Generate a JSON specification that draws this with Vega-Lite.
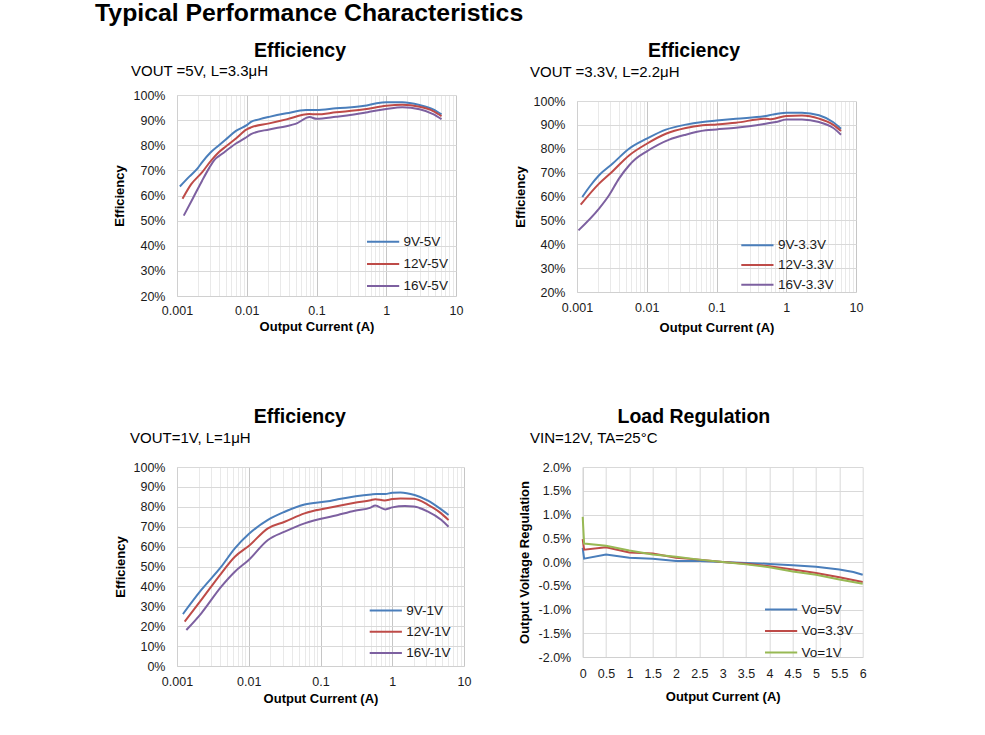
{
  "$schema": "https://vega.github.io/schema/vega-lite/v6.json",
  "padding": {"left": 95, "top": 0, "right": 5, "bottom": 5},
  "background": "white",
  "title": {"text": "Typical Performance Characteristics", "anchor": "start", "frame": "bounds", "fontSize": 24.8, "fontWeight": "bold", "color": "#000", "dx": -18, "offset": 16},
  "spacing": 72,
  "resolve": {"scale": {"x": "independent", "y": "independent", "color": "independent"}, "axis": {"x": "independent", "y": "independent"}, "legend": {"color": "independent"}},
  "datasets": {
    "eff5": [
      {"s": "9V-5V", "I": 0.0011, "eff": 63.6}, {"s": "9V-5V", "I": 0.0015, "eff": 67.5}, {"s": "9V-5V", "I": 0.002, "eff": 71}, {"s": "9V-5V", "I": 0.0023, "eff": 73.3}, {"s": "9V-5V", "I": 0.003, "eff": 77}, {"s": "9V-5V", "I": 0.004, "eff": 80}, {"s": "9V-5V", "I": 0.005, "eff": 82.3}, {"s": "9V-5V", "I": 0.007, "eff": 85.7}, {"s": "9V-5V", "I": 0.01, "eff": 88}, {"s": "9V-5V", "I": 0.0115, "eff": 89.3}, {"s": "9V-5V", "I": 0.015, "eff": 90.3}, {"s": "9V-5V", "I": 0.021, "eff": 91.3}, {"s": "9V-5V", "I": 0.037, "eff": 92.7}, {"s": "9V-5V", "I": 0.071, "eff": 94}, {"s": "9V-5V", "I": 0.1, "eff": 94}, {"s": "9V-5V", "I": 0.19, "eff": 94.7}, {"s": "9V-5V", "I": 0.49, "eff": 95.7}, {"s": "9V-5V", "I": 0.7, "eff": 96.6}, {"s": "9V-5V", "I": 1, "eff": 97.1}, {"s": "9V-5V", "I": 1.7, "eff": 97.1}, {"s": "9V-5V", "I": 3, "eff": 96}, {"s": "9V-5V", "I": 4.7, "eff": 94.3}, {"s": "9V-5V", "I": 6.2, "eff": 92.3},
      {"s": "12V-5V", "I": 0.0012, "eff": 58.7}, {"s": "12V-5V", "I": 0.0016, "eff": 64.5}, {"s": "12V-5V", "I": 0.0023, "eff": 69.3}, {"s": "12V-5V", "I": 0.003, "eff": 73.5}, {"s": "12V-5V", "I": 0.004, "eff": 77.3}, {"s": "12V-5V", "I": 0.005, "eff": 79.5}, {"s": "12V-5V", "I": 0.007, "eff": 82.7}, {"s": "12V-5V", "I": 0.01, "eff": 86.3}, {"s": "12V-5V", "I": 0.0115, "eff": 87.1}, {"s": "12V-5V", "I": 0.021, "eff": 88.7}, {"s": "12V-5V", "I": 0.037, "eff": 90.3}, {"s": "12V-5V", "I": 0.079, "eff": 92.4}, {"s": "12V-5V", "I": 0.1, "eff": 92.3}, {"s": "12V-5V", "I": 0.19, "eff": 93.1}, {"s": "12V-5V", "I": 0.49, "eff": 94.3}, {"s": "12V-5V", "I": 1, "eff": 95.7}, {"s": "12V-5V", "I": 1.7, "eff": 96.1}, {"s": "12V-5V", "I": 3, "eff": 95.3}, {"s": "12V-5V", "I": 4.7, "eff": 93.6}, {"s": "12V-5V", "I": 6.2, "eff": 91.6},
      {"s": "16V-5V", "I": 0.00125, "eff": 52}, {"s": "16V-5V", "I": 0.0017, "eff": 59}, {"s": "16V-5V", "I": 0.0023, "eff": 66}, {"s": "16V-5V", "I": 0.0029, "eff": 71}, {"s": "16V-5V", "I": 0.0034, "eff": 74}, {"s": "16V-5V", "I": 0.0045, "eff": 76.7}, {"s": "16V-5V", "I": 0.007, "eff": 80.7}, {"s": "16V-5V", "I": 0.0093, "eff": 82.7}, {"s": "16V-5V", "I": 0.0115, "eff": 84.4}, {"s": "16V-5V", "I": 0.021, "eff": 86.3}, {"s": "16V-5V", "I": 0.037, "eff": 87.6}, {"s": "16V-5V", "I": 0.05, "eff": 88.5}, {"s": "16V-5V", "I": 0.08, "eff": 91.2}, {"s": "16V-5V", "I": 0.1, "eff": 90.5}, {"s": "16V-5V", "I": 0.19, "eff": 91.3}, {"s": "16V-5V", "I": 0.49, "eff": 92.9}, {"s": "16V-5V", "I": 0.6, "eff": 93.4}, {"s": "16V-5V", "I": 1, "eff": 94.4}, {"s": "16V-5V", "I": 1.7, "eff": 95.1}, {"s": "16V-5V", "I": 3, "eff": 94.3}, {"s": "16V-5V", "I": 4.7, "eff": 92.4}, {"s": "16V-5V", "I": 6.2, "eff": 90.4}
    ],
    "eff33": [
      {"s": "9V-3.3V", "I": 0.00119, "eff": 59.8}, {"s": "9V-3.3V", "I": 0.00155, "eff": 64.5}, {"s": "9V-3.3V", "I": 0.00207, "eff": 68.9}, {"s": "9V-3.3V", "I": 0.00322, "eff": 73.7}, {"s": "9V-3.3V", "I": 0.00557, "eff": 80}, {"s": "9V-3.3V", "I": 0.01, "eff": 84.2}, {"s": "9V-3.3V", "I": 0.0188, "eff": 88}, {"s": "9V-3.3V", "I": 0.0363, "eff": 90.1}, {"s": "9V-3.3V", "I": 0.063, "eff": 91.2}, {"s": "9V-3.3V", "I": 0.1, "eff": 91.8}, {"s": "9V-3.3V", "I": 0.19, "eff": 92.6}, {"s": "9V-3.3V", "I": 0.51, "eff": 93.7}, {"s": "9V-3.3V", "I": 0.63, "eff": 94.3}, {"s": "9V-3.3V", "I": 1, "eff": 95.1}, {"s": "9V-3.3V", "I": 1.68, "eff": 95.1}, {"s": "9V-3.3V", "I": 2.95, "eff": 94}, {"s": "9V-3.3V", "I": 4.67, "eff": 91.2}, {"s": "9V-3.3V", "I": 6.1, "eff": 88.4},
      {"s": "12V-3.3V", "I": 0.00113, "eff": 56.6}, {"s": "12V-3.3V", "I": 0.00207, "eff": 65.4}, {"s": "12V-3.3V", "I": 0.00322, "eff": 70.5}, {"s": "12V-3.3V", "I": 0.00557, "eff": 77.2}, {"s": "12V-3.3V", "I": 0.01, "eff": 82.1}, {"s": "12V-3.3V", "I": 0.0188, "eff": 86.3}, {"s": "12V-3.3V", "I": 0.0363, "eff": 88.7}, {"s": "12V-3.3V", "I": 0.063, "eff": 89.8}, {"s": "12V-3.3V", "I": 0.1, "eff": 90.2}, {"s": "12V-3.3V", "I": 0.19, "eff": 90.9}, {"s": "12V-3.3V", "I": 0.51, "eff": 92.6}, {"s": "12V-3.3V", "I": 0.6, "eff": 92.4}, {"s": "12V-3.3V", "I": 1, "eff": 93.7}, {"s": "12V-3.3V", "I": 1.68, "eff": 93.9}, {"s": "12V-3.3V", "I": 2.95, "eff": 92.6}, {"s": "12V-3.3V", "I": 4.67, "eff": 90.1}, {"s": "12V-3.3V", "I": 6.1, "eff": 87.4},
      {"s": "16V-3.3V", "I": 0.00105, "eff": 45.8}, {"s": "16V-3.3V", "I": 0.00207, "eff": 54.9}, {"s": "16V-3.3V", "I": 0.00288, "eff": 60.5}, {"s": "16V-3.3V", "I": 0.004, "eff": 67.5}, {"s": "16V-3.3V", "I": 0.00557, "eff": 73}, {"s": "16V-3.3V", "I": 0.00695, "eff": 75.8}, {"s": "16V-3.3V", "I": 0.01, "eff": 78.9}, {"s": "16V-3.3V", "I": 0.021, "eff": 83.8}, {"s": "16V-3.3V", "I": 0.0363, "eff": 85.9}, {"s": "16V-3.3V", "I": 0.07, "eff": 87.7}, {"s": "16V-3.3V", "I": 0.1, "eff": 88.1}, {"s": "16V-3.3V", "I": 0.19, "eff": 88.8}, {"s": "16V-3.3V", "I": 0.51, "eff": 90.5}, {"s": "16V-3.3V", "I": 0.71, "eff": 91.2}, {"s": "16V-3.3V", "I": 1, "eff": 92.2}, {"s": "16V-3.3V", "I": 1.68, "eff": 92.3}, {"s": "16V-3.3V", "I": 2.95, "eff": 91.2}, {"s": "16V-3.3V", "I": 4.67, "eff": 88.8}, {"s": "16V-3.3V", "I": 6.1, "eff": 85.9}
    ],
    "eff1": [
      {"s": "9V-1V", "I": 0.00121, "eff": 26.1}, {"s": "9V-1V", "I": 0.00218, "eff": 38.2}, {"s": "9V-1V", "I": 0.00414, "eff": 49.9}, {"s": "9V-1V", "I": 0.0064, "eff": 59.1}, {"s": "9V-1V", "I": 0.01, "eff": 66.3}, {"s": "9V-1V", "I": 0.0185, "eff": 73.4}, {"s": "9V-1V", "I": 0.0317, "eff": 77.5}, {"s": "9V-1V", "I": 0.06, "eff": 81.2}, {"s": "9V-1V", "I": 0.127, "eff": 82.8}, {"s": "9V-1V", "I": 0.175, "eff": 83.8}, {"s": "9V-1V", "I": 0.51, "eff": 86.2}, {"s": "9V-1V", "I": 0.6, "eff": 86.4}, {"s": "9V-1V", "I": 0.8, "eff": 86.4}, {"s": "9V-1V", "I": 1, "eff": 87.1}, {"s": "9V-1V", "I": 1.3, "eff": 87.2}, {"s": "9V-1V", "I": 2.05, "eff": 85.9}, {"s": "9V-1V", "I": 3.15, "eff": 83.1}, {"s": "9V-1V", "I": 4.8, "eff": 78.7}, {"s": "9V-1V", "I": 6.1, "eff": 75.9},
      {"s": "12V-1V", "I": 0.00128, "eff": 22.3}, {"s": "12V-1V", "I": 0.00218, "eff": 33.2}, {"s": "12V-1V", "I": 0.00414, "eff": 46.6}, {"s": "12V-1V", "I": 0.0064, "eff": 54.9}, {"s": "12V-1V", "I": 0.01, "eff": 60.3}, {"s": "12V-1V", "I": 0.0185, "eff": 69.2}, {"s": "12V-1V", "I": 0.0317, "eff": 72.5}, {"s": "12V-1V", "I": 0.06, "eff": 76.7}, {"s": "12V-1V", "I": 0.175, "eff": 80.4}, {"s": "12V-1V", "I": 0.3, "eff": 82}, {"s": "12V-1V", "I": 0.5, "eff": 83.3}, {"s": "12V-1V", "I": 0.58, "eff": 83.8}, {"s": "12V-1V", "I": 0.78, "eff": 83.2}, {"s": "12V-1V", "I": 1, "eff": 83.9}, {"s": "12V-1V", "I": 1.3, "eff": 84.2}, {"s": "12V-1V", "I": 2, "eff": 84}, {"s": "12V-1V", "I": 3.15, "eff": 81}, {"s": "12V-1V", "I": 4.8, "eff": 76.7}, {"s": "12V-1V", "I": 6.1, "eff": 73.3},
      {"s": "16V-1V", "I": 0.00135, "eff": 18.1}, {"s": "16V-1V", "I": 0.00218, "eff": 26.5}, {"s": "16V-1V", "I": 0.00414, "eff": 39.9}, {"s": "16V-1V", "I": 0.0064, "eff": 47.4}, {"s": "16V-1V", "I": 0.01, "eff": 53.3}, {"s": "16V-1V", "I": 0.0185, "eff": 63.3}, {"s": "16V-1V", "I": 0.0317, "eff": 67.5}, {"s": "16V-1V", "I": 0.06, "eff": 71.7}, {"s": "16V-1V", "I": 0.175, "eff": 75.9}, {"s": "16V-1V", "I": 0.3, "eff": 78}, {"s": "16V-1V", "I": 0.5, "eff": 79.6}, {"s": "16V-1V", "I": 0.58, "eff": 80.6}, {"s": "16V-1V", "I": 0.8, "eff": 78.7}, {"s": "16V-1V", "I": 1, "eff": 79.7}, {"s": "16V-1V", "I": 1.5, "eff": 80.4}, {"s": "16V-1V", "I": 2, "eff": 80.1}, {"s": "16V-1V", "I": 3.15, "eff": 77.6}, {"s": "16V-1V", "I": 4.8, "eff": 73.5}, {"s": "16V-1V", "I": 6.1, "eff": 70}
    ],
    "reg": [
      {"s": "Vo=5V", "I": 0, "r": 0.3}, {"s": "Vo=5V", "I": 0.03, "r": 0.07}, {"s": "Vo=5V", "I": 0.5, "r": 0.16}, {"s": "Vo=5V", "I": 1, "r": 0.09}, {"s": "Vo=5V", "I": 1.5, "r": 0.07}, {"s": "Vo=5V", "I": 2, "r": 0.02}, {"s": "Vo=5V", "I": 2.5, "r": 0.02}, {"s": "Vo=5V", "I": 3, "r": 0}, {"s": "Vo=5V", "I": 3.5, "r": -0.02}, {"s": "Vo=5V", "I": 4, "r": -0.04}, {"s": "Vo=5V", "I": 4.5, "r": -0.07}, {"s": "Vo=5V", "I": 5, "r": -0.1}, {"s": "Vo=5V", "I": 5.5, "r": -0.16}, {"s": "Vo=5V", "I": 5.8, "r": -0.21}, {"s": "Vo=5V", "I": 6, "r": -0.27},
      {"s": "Vo=3.3V", "I": 0, "r": 0.48}, {"s": "Vo=3.3V", "I": 0.03, "r": 0.26}, {"s": "Vo=3.3V", "I": 0.5, "r": 0.31}, {"s": "Vo=3.3V", "I": 1, "r": 0.2}, {"s": "Vo=3.3V", "I": 1.5, "r": 0.18}, {"s": "Vo=3.3V", "I": 2, "r": 0.09}, {"s": "Vo=3.3V", "I": 2.5, "r": 0.05}, {"s": "Vo=3.3V", "I": 3, "r": 0}, {"s": "Vo=3.3V", "I": 3.5, "r": -0.035}, {"s": "Vo=3.3V", "I": 4, "r": -0.09}, {"s": "Vo=3.3V", "I": 4.5, "r": -0.16}, {"s": "Vo=3.3V", "I": 5, "r": -0.23}, {"s": "Vo=3.3V", "I": 5.5, "r": -0.32}, {"s": "Vo=3.3V", "I": 6, "r": -0.42},
      {"s": "Vo=1V", "I": 0, "r": 0.95}, {"s": "Vo=1V", "I": 0.03, "r": 0.39}, {"s": "Vo=1V", "I": 0.5, "r": 0.34}, {"s": "Vo=1V", "I": 1, "r": 0.24}, {"s": "Vo=1V", "I": 1.5, "r": 0.16}, {"s": "Vo=1V", "I": 2, "r": 0.11}, {"s": "Vo=1V", "I": 2.5, "r": 0.05}, {"s": "Vo=1V", "I": 3, "r": 0}, {"s": "Vo=1V", "I": 3.5, "r": -0.05}, {"s": "Vo=1V", "I": 4, "r": -0.11}, {"s": "Vo=1V", "I": 4.5, "r": -0.2}, {"s": "Vo=1V", "I": 5, "r": -0.27}, {"s": "Vo=1V", "I": 5.5, "r": -0.37}, {"s": "Vo=1V", "I": 6, "r": -0.46}
    ]
  },
  "vconcat": [
    {
      "columns": 2,
      "align": "none",
      "spacing": 51,
      "resolve": {"scale": {"x": "independent", "y": "independent", "color": "independent"}, "legend": {"color": "independent"}},
      "concat": [
        {
          "title": {"text": "Efficiency", "anchor": "middle", "frame": "bounds", "fontSize": 19.5, "fontWeight": "bold", "dx": 12, "offset": 1.2},
          "spacing": 0,
          "resolve": {"scale": {"x": "independent", "y": "independent", "color": "independent"}, "legend": {"color": "independent"}},
          "vconcat": [
            {"width": 1, "height": 1, "data": {"values": []}, "mark": {"type": "point", "opacity": 0}, "encoding": {}},
            {
              "width": 279, "height": 201,
              "title": {"text": "VOUT =5V, L=3.3μH", "anchor": "start", "frame": "group", "fontSize": 15, "fontWeight": "normal", "dx": -46, "offset": 10},
              "data": {"name": "eff5"},
              "mark": {"type": "line", "strokeWidth": 2, "interpolate": "monotone"},
              "encoding": {
                "x": {"field": "I", "type": "quantitative", "scale": {"type": "log", "domain": [0.001, 10]},
                  "axis": {"title": "Output Current (A)", "values": [0.001, 0.002, 0.003, 0.004, 0.005, 0.006, 0.007, 0.008, 0.009, 0.01, 0.02, 0.03, 0.04, 0.05, 0.06, 0.07, 0.08, 0.09, 0.1, 0.2, 0.3, 0.4, 0.5, 0.6, 0.7, 0.8, 0.9, 1, 2, 3, 4, 5, 6, 7, 8, 9, 10],
                    "labelExpr": "abs(log(datum.value)/LN10 - round(log(datum.value)/LN10)) < 0.001 ? format(datum.value, '~g') : ''",
                    "gridColor": {"condition": {"test": "abs(log(datum.value)/LN10 - round(log(datum.value)/LN10)) < 0.001", "value": "#c6c6c6"}, "value": "#e9e9e9"},
                    "labelPadding": 8, "titlePadding": 4}},
                "y": {"field": "eff", "type": "quantitative", "scale": {"domain": [20, 100]},
                  "axis": {"title": "Efficiency", "values": [20, 30, 40, 50, 60, 70, 80, 90, 100], "labelExpr": "datum.value + '%'", "labelPadding": 12, "titlePadding": 7}},
                "color": {"field": "s", "type": "nominal", "scale": {"domain": ["9V-5V", "12V-5V", "16V-5V"], "range": ["#4A7EBB", "#BE4B48", "#7D60A0"]},
                  "legend": {"orient": "none", "legendX": 193.6, "legendY": 134.2, "rowPadding": 3.2, "title": null}}
              }
            }
          ]
        },
        {
          "title": {"text": "Efficiency", "anchor": "middle", "frame": "bounds", "fontSize": 19.5, "fontWeight": "bold", "dx": 5.5, "offset": 1.2},
          "spacing": 0,
          "resolve": {"scale": {"x": "independent", "y": "independent", "color": "independent"}, "legend": {"color": "independent"}},
          "vconcat": [
            {"width": 1, "height": 1, "data": {"values": []}, "mark": {"type": "point", "opacity": 0}, "encoding": {}},
            {
              "width": 279, "height": 191,
              "title": {"text": "VOUT =3.3V, L=2.2μH", "anchor": "start", "frame": "group", "fontSize": 15, "fontWeight": "normal", "dx": -47, "offset": 15.4},
              "data": {"name": "eff33"},
              "mark": {"type": "line", "strokeWidth": 2, "interpolate": "monotone"},
              "encoding": {
                "x": {"field": "I", "type": "quantitative", "scale": {"type": "log", "domain": [0.001, 10]},
                  "axis": {"title": "Output Current (A)", "values": [0.001, 0.002, 0.003, 0.004, 0.005, 0.006, 0.007, 0.008, 0.009, 0.01, 0.02, 0.03, 0.04, 0.05, 0.06, 0.07, 0.08, 0.09, 0.1, 0.2, 0.3, 0.4, 0.5, 0.6, 0.7, 0.8, 0.9, 1, 2, 3, 4, 5, 6, 7, 8, 9, 10],
                    "labelExpr": "abs(log(datum.value)/LN10 - round(log(datum.value)/LN10)) < 0.001 ? format(datum.value, '~g') : ''",
                    "gridColor": {"condition": {"test": "abs(log(datum.value)/LN10 - round(log(datum.value)/LN10)) < 0.001", "value": "#c6c6c6"}, "value": "#e9e9e9"},
                    "labelPadding": 9, "titlePadding": 8}},
                "y": {"field": "eff", "type": "quantitative", "scale": {"domain": [20, 100]},
                  "axis": {"title": "Efficiency", "values": [20, 30, 40, 50, 60, 70, 80, 90, 100], "labelExpr": "datum.value + '%'", "labelPadding": 12, "titlePadding": 6}},
                "color": {"field": "s", "type": "nominal", "scale": {"domain": ["9V-3.3V", "12V-3.3V", "16V-3.3V"], "range": ["#4A7EBB", "#BE4B48", "#7D60A0"]},
                  "legend": {"orient": "none", "legendX": 167.9, "legendY": 131.8, "rowPadding": 0.7, "title": null}}
              }
            }
          ]
        }
      ]
    },
    {
      "columns": 2,
      "align": "none",
      "spacing": 46.7,
      "resolve": {"scale": {"x": "independent", "y": "independent", "color": "independent"}, "legend": {"color": "independent"}},
      "concat": [
        {
          "title": {"text": "Efficiency", "anchor": "middle", "frame": "bounds", "fontSize": 19.5, "fontWeight": "bold", "dx": 7.3, "offset": 3.3},
          "resolve": {"scale": {"x": "independent", "y": "independent", "color": "independent"}, "legend": {"color": "independent"}},
          "vconcat": [
            {
              "width": 287, "height": 199,
              "title": {"text": "VOUT=1V, L=1μH", "anchor": "start", "frame": "group", "fontSize": 15, "fontWeight": "normal", "dx": -47, "offset": 15.2},
              "data": {"name": "eff1"},
              "mark": {"type": "line", "strokeWidth": 2, "interpolate": "monotone"},
              "encoding": {
                "x": {"field": "I", "type": "quantitative", "scale": {"type": "log", "domain": [0.001, 10]},
                  "axis": {"title": "Output Current (A)", "values": [0.001, 0.002, 0.003, 0.004, 0.005, 0.006, 0.007, 0.008, 0.009, 0.01, 0.02, 0.03, 0.04, 0.05, 0.06, 0.07, 0.08, 0.09, 0.1, 0.2, 0.3, 0.4, 0.5, 0.6, 0.7, 0.8, 0.9, 1, 2, 3, 4, 5, 6, 7, 8, 9, 10],
                    "labelExpr": "abs(log(datum.value)/LN10 - round(log(datum.value)/LN10)) < 0.001 ? format(datum.value, '~g') : ''",
                    "gridColor": {"condition": {"test": "abs(log(datum.value)/LN10 - round(log(datum.value)/LN10)) < 0.001", "value": "#c6c6c6"}, "value": "#e9e9e9"},
                    "labelPadding": 9, "titlePadding": 5}},
                "y": {"field": "eff", "type": "quantitative", "scale": {"domain": [0, 100]},
                  "axis": {"title": "Efficiency", "values": [0, 10, 20, 30, 40, 50, 60, 70, 80, 90, 100], "labelExpr": "datum.value + '%'", "labelPadding": 12, "titlePadding": 6}},
                "color": {"field": "s", "type": "nominal", "scale": {"domain": ["9V-1V", "12V-1V", "16V-1V"], "range": ["#4A7EBB", "#BE4B48", "#7D60A0"]},
                  "legend": {"orient": "none", "legendX": 196.3, "legendY": 131.1, "rowPadding": 2.2, "title": null}}
              }
            }
          ]
        },
        {
          "title": {"text": "Load Regulation", "anchor": "middle", "frame": "bounds", "fontSize": 19.5, "fontWeight": "bold", "dx": 1.5, "offset": 3.3},
          "resolve": {"scale": {"x": "independent", "y": "independent", "color": "independent"}, "legend": {"color": "independent"}},
          "vconcat": [
            {
              "width": 280, "height": 190,
              "title": {"text": "VIN=12V, TA=25°C", "anchor": "start", "frame": "group", "fontSize": 15, "fontWeight": "normal", "dx": -52.7, "offset": 15.2},
              "data": {"name": "reg"},
              "mark": {"type": "line", "strokeWidth": 2},
              "encoding": {
                "x": {"field": "I", "type": "quantitative", "scale": {"domain": [0, 6], "nice": false},
                  "axis": {"title": "Output Current (A)", "values": [0, 0.5, 1, 1.5, 2, 2.5, 3, 3.5, 4, 4.5, 5, 5.5, 6],
                    "labelExpr": "format(datum.value, '~g')", "labelPadding": 10, "titlePadding": 11}},
                "y": {"field": "r", "type": "quantitative", "scale": {"domain": [-2, 2], "nice": false},
                  "axis": {"title": "Output Voltage Regulation", "values": [-2, -1.5, -1, -0.5, 0, 0.5, 1, 1.5, 2], "labelExpr": "(datum.value < 0 ? '-' : '') + format(abs(datum.value), '.1f') + '%'", "labelPadding": 12, "titlePadding": 7}},
                "color": {"field": "s", "type": "nominal", "scale": {"domain": ["Vo=5V", "Vo=3.3V", "Vo=1V"], "range": ["#4A7EBB", "#BE4B48", "#98B954"]},
                  "legend": {"orient": "none", "legendX": 185.9, "legendY": 130.1, "rowPadding": 2.5, "title": null}}
              }
            }
          ]
        }
      ]
    }
  ],
  "config": {
    "font": "Liberation Sans",
    "view": {"stroke": null},
    "title": {"font": "Liberation Sans", "color": "#000"},
    "axis": {"labelFont": "Liberation Sans", "labelFontSize": 12.5, "labelColor": "#1a1a1a", "titleFont": "Liberation Sans", "titleFontSize": 13, "titleFontWeight": "bold", "titleColor": "#000", "domainColor": "#d0d0d0", "gridColor": "#d9d9d9", "grid": true, "ticks": false, "tickSize": 0, "labelOverlap": false, "labelFlush": false},
    "legend": {"labelFont": "Liberation Sans", "labelFontSize": 13.5, "labelColor": "#1a1a1a", "symbolType": "M-1.4,0H1.4", "symbolStrokeWidth": 2, "symbolSize": 529, "labelOffset": 8, "rowPadding": 3, "padding": 0}
  }
}
